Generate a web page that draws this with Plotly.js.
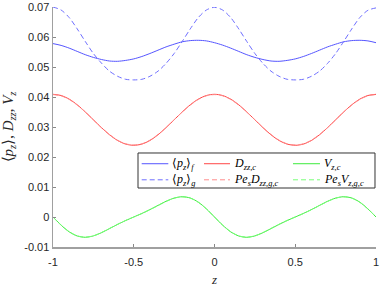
<!DOCTYPE html>
<html>
<head>
<meta charset="utf-8">
<script src="https://cdn.plot.ly/plotly-3.0.1.min.js"></script>
<style>html,body{margin:0;padding:0;background:#fff;}#chart{width:382px;height:287px;}</style>
</head>
<body>
<div id="chart"></div>
<script>
var z = [-1,-0.95,-0.9,-0.85,-0.8,-0.75,-0.7,-0.65,-0.6,-0.55,-0.5,-0.45,-0.4,-0.35,-0.3,-0.25,-0.2,-0.15,-0.1,-0.05,0,
         0.05,0.1,0.15,0.2,0.25,0.3,0.35,0.4,0.45,0.5,0.55,0.6,0.65,0.7,0.75,0.8,0.85,0.9,0.95,1];

var pzF = [0.0578,0.0572,0.0563,0.0552,0.0541,0.0532,0.0525,0.0520,0.0519,0.0522,0.0527,0.0535,0.0545,0.0556,0.0567,0.0576,0.0584,0.0588,0.0589,0.0587,0.0581,
           0.0573,0.0563,0.0552,0.0541,0.0532,0.0525,0.0520,0.0519,0.0522,0.0527,0.0535,0.0545,0.0556,0.0567,0.0576,0.0584,0.0588,0.0589,0.0587,0.0581];

var pzG = [0.0700,0.0690,0.0665,0.0627,0.0585,0.0545,0.0513,0.0486,0.0469,0.0459,0.0457,0.0459,0.0469,0.0486,0.0512,0.0545,0.0585,0.0627,0.0665,0.0690,0.0699,
           0.0690,0.0665,0.0627,0.0585,0.0545,0.0512,0.0486,0.0469,0.0459,0.0457,0.0459,0.0469,0.0486,0.0512,0.0545,0.0585,0.0627,0.0665,0.0689,0.0697];

var dzzC = [0.0409,0.0405,0.0393,0.0374,0.0350,0.0324,0.0298,0.0274,0.0255,0.0243,0.0239,0.0243,0.0255,0.0274,0.0298,0.0324,0.0350,0.0374,0.0393,0.0405,0.0409,
            0.0405,0.0393,0.0374,0.0350,0.0324,0.0298,0.0274,0.0255,0.0243,0.0239,0.0243,0.0255,0.0274,0.0298,0.0324,0.0350,0.0374,0.0393,0.0405,0.0409];

var peDzzGC = [0.0408,0.0404,0.0392,0.0373,0.0350,0.0324,0.0298,0.0275,0.0256,0.0244,0.0240,0.0244,0.0256,0.0275,0.0298,0.0324,0.0350,0.0373,0.0392,0.0404,0.0408,
               0.0404,0.0392,0.0373,0.0350,0.0324,0.0298,0.0275,0.0256,0.0244,0.0240,0.0244,0.0256,0.0275,0.0298,0.0324,0.0350,0.0373,0.0392,0.0404,0.0408];

var vzC = [0,-0.00271,-0.00494,-0.00633,-0.00676,-0.00630,-0.00523,-0.00386,-0.00247,-0.00118,0,0.00118,0.00247,0.00386,0.00523,0.00630,0.00676,0.00633,0.00494,0.00271,0,
           -0.00271,-0.00494,-0.00633,-0.00676,-0.00630,-0.00523,-0.00386,-0.00247,-0.00118,0,0.00118,0.00247,0.00386,0.00523,0.00630,0.00676,0.00633,0.00494,0.00271,0];

var peVzGC = [0,-0.00266,-0.00488,-0.00628,-0.00672,-0.00627,-0.00518,-0.00380,-0.00242,-0.00114,0,0.00114,0.00242,0.00380,0.00518,0.00627,0.00672,0.00628,0.00488,0.00266,0,
              -0.00266,-0.00488,-0.00628,-0.00672,-0.00627,-0.00518,-0.00380,-0.00242,-0.00114,0,0.00114,0.00242,0.00380,0.00518,0.00627,0.00672,0.00628,0.00488,0.00266,0];

var xTickVals = [-1,-0.5,0,0.5,1];
var xTickText = ['-1','-0.5','0','0.5','1'];
var yTickVals = [-0.01,0,0.01,0.02,0.03,0.04,0.05,0.06,0.07];
var yTickText = ['-0.01','0','0.01','0.02','0.03','0.04','0.05','0.06','0.07'];

var names = ['⟨<i>p</i><sub><i>z</i></sub>⟩<sub><i>f</i></sub>',
             '<i>D</i><sub><i>zz,c</i></sub>',
             '<i>V</i><sub><i>z,c</i></sub>',
             '⟨<i>p</i><sub><i>z</i></sub>⟩<sub><i>g</i></sub>',
             '<i>Pe</i><sub><i>s</i></sub><i>D</i><sub><i>zz,g,c</i></sub>',
             '<i>Pe</i><sub><i>s</i></sub><i>V</i><sub><i>z,g,c</i></sub>'];
var series = [pzF, dzzC, vzC, pzG, peDzzGC, peVzGC];
var colors = ['rgb(85,85,255)', 'rgb(255,70,70)', 'rgb(60,235,60)',
              'rgb(110,110,255)', 'rgb(255,140,140)', 'rgb(120,255,120)'];
var dashes = ['solid', 'solid', 'solid', '5px,3px', '5px,3px', '5px,3px'];

var data = series.map(function (y, i) {
  return {x: z, y: y, name: names[i], type: 'scatter', mode: 'lines', showlegend: false,
          line: {color: colors[i], width: 1, dash: dashes[i], shape: 'spline', smoothing: 0.8}};
});

// legend layout (paper coordinates)
var colLine0 = [0.2746, 0.4675, 0.7430];
var colLine1 = [0.3570, 0.5480, 0.8266];
var colText = [0.3607, 0.5542, 0.8328];
var rowY = [0.347, 0.280];

var shapes = [{type: 'rect', xref: 'paper', yref: 'paper', x0: 0.2632, x1: 0.9969, y0: 0.2458, y1: 0.3917,
               line: {color: '#333', width: 1}, fillcolor: '#fff', layer: 'below'}];
var annotations = [];
for (var i = 0; i < 6; i++) {
  var c = i % 3, r = Math.floor(i / 3);
  shapes.push({type: 'line', xref: 'paper', yref: 'paper', x0: colLine0[c], x1: colLine1[c], y0: rowY[r], y1: rowY[r],
               line: {color: colors[i], width: 1, dash: dashes[i]}});
  annotations.push({xref: 'paper', yref: 'paper', x: colText[c], y: rowY[r], xanchor: 'left', yanchor: 'middle',
                    showarrow: false, text: names[i], font: {family: 'Liberation Serif', size: 12, color: '#000'}});
}

var layout = {
  width: 382, height: 287,
  margin: {l: 53, r: 6, t: 7, b: 40, pad: 0},
  paper_bgcolor: '#fff', plot_bgcolor: '#fff',
  showlegend: false,
  font: {family: 'Liberation Sans', size: 11, color: '#262626'},
  xaxis: {range: [-1, 1], tickvals: xTickVals, ticktext: xTickText, ticks: 'inside', ticklen: 3,
          tickcolor: '#888', showline: true, linecolor: '#a0a0a0', linewidth: 1.5, showgrid: false, zeroline: false,
          ticklabelstandoff: 4,
          tickfont: {family: 'Liberation Sans', size: 11, color: '#262626'},
          title: {text: '<i>z</i>', font: {family: 'Liberation Serif', size: 13, color: '#262626'}, standoff: 15}},
  yaxis: {range: [-0.01, 0.07], tickvals: yTickVals, ticktext: yTickText, ticks: 'inside', ticklen: 3,
          tickcolor: '#888', showline: true, linecolor: '#a0a0a0', linewidth: 1.5, showgrid: false, zeroline: false,
          tickfont: {family: 'Liberation Sans', size: 11, color: '#262626'},
          title: {text: '⟨<i>p</i><sub><i>z</i></sub>⟩, <i>D</i><sub><i>zz</i></sub>, <i>V</i><sub><i>z</i></sub>',
                  font: {family: 'Liberation Serif', size: 15, color: '#262626'}, standoff: 8}},
  shapes: shapes,
  annotations: annotations
};

Plotly.newPlot('chart', data, layout, {staticPlot: true, displayModeBar: false});
</script>
</body>
</html>
